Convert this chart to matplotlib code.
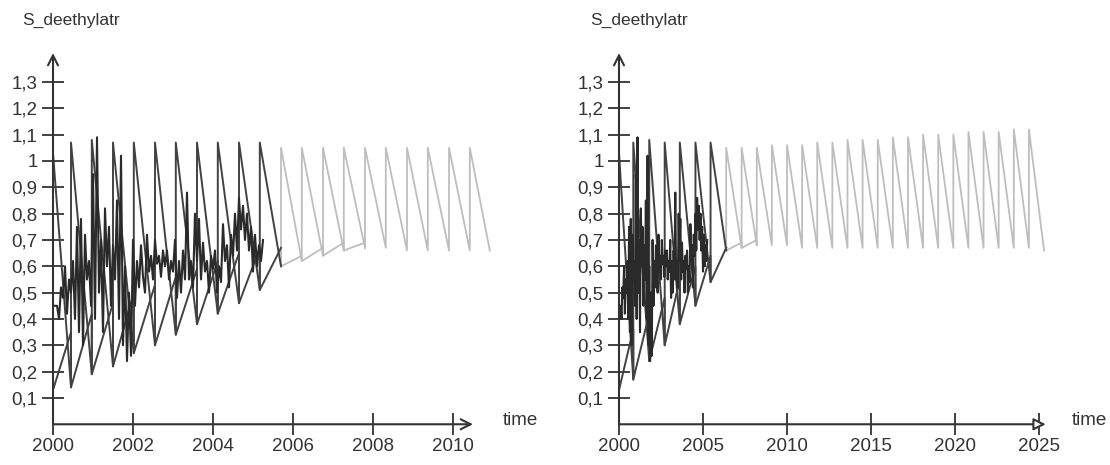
import matplotlib
matplotlib.use("Agg")
import matplotlib.pyplot as plt
import numpy as np
from matplotlib import font_manager

# ---- data ----------------------------------------------------------------
# observed series (same in both panels), sampled every 0.05 year from 2000.0
OBS_START = 2000.0
OBS_STEP = 0.05
obs_values = [
    0.45, 0.45, 0.45, 0.40, 0.52, 0.48, 0.60, 0.42, 0.55, 0.50,
    0.62, 0.40, 0.75, 0.35, 0.78, 0.30, 0.72, 0.55, 0.62, 0.45,
    0.95, 0.40, 1.09, 0.50, 0.70, 0.35, 0.82, 0.60, 0.75, 0.45,
    0.68, 0.55, 0.85, 0.40, 1.02, 0.30, 0.60, 0.24, 0.50, 0.26,
    0.70, 0.45, 0.62, 0.52, 0.68, 0.56, 0.50, 0.72, 0.58, 0.64,
    0.55, 0.70, 0.61, 0.64, 0.56, 0.66, 0.60, 0.66, 0.55, 0.62,
    0.58, 0.70, 0.48, 0.62, 0.50, 0.66, 0.55, 0.88, 0.55, 0.62,
    0.52, 0.80, 0.62, 0.78, 0.55, 0.69, 0.58, 0.62, 0.50, 0.64,
    0.59, 0.66, 0.50, 0.60, 0.54, 0.76, 0.62, 0.68, 0.52, 0.72,
    0.64, 0.80, 0.66, 0.86, 0.74, 0.83, 0.70, 0.80, 0.66, 0.75,
    0.58, 0.72, 0.60, 0.68, 0.62, 0.70,
]

# left panel: simulation with half-yearly applications
left_start = (2000.0, 1.03)
left_jumps = [2000.45, 2000.97, 2001.50, 2002.02, 2002.55, 2003.07, 2003.60,
              2004.12, 2004.65, 2005.17, 2005.70, 2006.22, 2006.75, 2007.27,
              2007.80, 2008.32, 2008.85, 2009.37, 2009.90, 2010.42]
left_peaks = [1.07, 1.08, 1.07, 1.07, 1.07, 1.07, 1.07, 1.07, 1.07, 1.07,
              1.05, 1.05, 1.05, 1.05, 1.05, 1.05, 1.05, 1.05, 1.05, 1.05]
left_troughs = [0.14, 0.19, 0.22, 0.27, 0.30, 0.34, 0.38, 0.42, 0.46, 0.51,
                0.60, 0.62, 0.64, 0.66, 0.67, 0.67, 0.66, 0.66, 0.66, 0.66]
left_end = (2010.92, 0.66)
# slowly rising companion curve: value reached at each jump time
left_rise_start = (2000.0, 0.13)
left_rise_highs = [0.35, 0.42, 0.46, 0.50, 0.53, 0.56, 0.59, 0.62, 0.65, 0.67,
                   0.67, 0.64, 0.67, 0.69, 0.69]
left_dark_until = 10      # jumps drawn dark

# right panel: simulation with ~0.9 year cycle, run to 2025
right_start = (2000.0, 1.03)
right_jumps = [2000.85, 2001.80, 2002.72, 2003.62, 2004.55, 2005.45, 2006.38,
               2007.30, 2008.20, 2009.10, 2010.00, 2010.90, 2011.80, 2012.70,
               2013.60, 2014.50, 2015.40, 2016.30, 2017.20, 2018.10, 2019.00,
               2019.90, 2020.80, 2021.70, 2022.60, 2023.50, 2024.40]
right_peaks = [1.07, 1.08, 1.07, 1.07, 1.07, 1.07, 1.05, 1.05, 1.05, 1.06,
               1.06, 1.06, 1.07, 1.07, 1.08, 1.08, 1.08, 1.09, 1.09, 1.10,
               1.10, 1.10, 1.11, 1.11, 1.11, 1.12, 1.12]
right_troughs = [0.17, 0.24, 0.30, 0.38, 0.45, 0.54, 0.66, 0.67, 0.68, 0.68,
                 0.68, 0.67, 0.67, 0.67, 0.67, 0.67, 0.67, 0.67, 0.67, 0.67,
                 0.67, 0.67, 0.67, 0.67, 0.67, 0.67, 0.67]
right_end = (2025.3, 0.66)
right_rise_start = (2000.0, 0.13)
right_rise_highs = [0.36, 0.42, 0.48, 0.55, 0.60, 0.64, 0.67, 0.69, 0.70]
right_dark_until = 6

y_ticks = [0.1, 0.2, 0.3, 0.4, 0.5, 0.6, 0.7, 0.8, 0.9, 1.0, 1.1, 1.2, 1.3]
left_xticks = [2000, 2002, 2004, 2006, 2008, 2010]
right_xticks = [2000, 2005, 2010, 2015, 2020, 2025]

# ---- styling --------------------------------------------------------------
names = {f.name for f in font_manager.fontManager.ttflist}
if "Liberation Sans Narrow" in names:
    FAMILY = ["Liberation Sans Narrow", "DejaVu Sans"]
    FS = 15.5
else:
    FAMILY = ["Liberation Sans", "DejaVu Sans"]
    FS = 13.5
plt.rcParams["font.family"] = FAMILY

TXT = "#333333"
DARK = "#424242"
OBS = "#2a2a2a"
LIGHT = "#bebebe"


def sawtooth(start, jumps, peaks, troughs, end):
    t, v = [start[0]], [start[1]]
    for j, p, m in zip(jumps, peaks, troughs):
        t += [j, j]
        v += [m, p]
    t.append(end[0])
    v.append(end[1])
    return t, v


def rising(start, jumps, troughs, highs):
    t, v = [start[0]], [start[1]]
    for k, h in enumerate(highs):
        t += [jumps[k], jumps[k]]
        v += [h, troughs[k]]
    return t, v


def draw_panel(ax, start, jumps, peaks, troughs, end, rise_start, rise_highs,
               dark_until, xlim, xticks, x_tip, arrow):
    k = dark_until
    # light (later) part of the simulation
    lt, lv = sawtooth((jumps[k], troughs[k]), jumps[k:], peaks[k:], troughs[k:], end)
    ax.plot(lt, lv, color=LIGHT, lw=1.3, zorder=2)
    rt, rv = rising(rise_start, jumps, troughs, rise_highs)
    n_dark = 2 * k + 1
    ax.plot(rt[n_dark:], rv[n_dark:], color=LIGHT, lw=1.3, zorder=2)
    # dark (earlier) part
    dt, dv = sawtooth(start, jumps[:k], peaks[:k], troughs[:k], (jumps[k], troughs[k]))
    ax.plot(rt[:n_dark + 1], rv[:n_dark + 1], color=DARK, lw=1.4, zorder=3)
    ax.plot(dt, dv, color=DARK, lw=1.4, zorder=3)
    # observations
    ot = OBS_START + OBS_STEP * np.arange(len(obs_values))
    ax.plot(ot, obs_values, color=OBS, lw=1.5, zorder=4)

    ax.set_xlim(*xlim)
    ax.set_ylim(-0.1, 1.45)
    for s in ax.spines.values():
        s.set_visible(False)
    ax.spines["left"].set_position(("data", 2000))
    ax.spines["bottom"].set_position(("data", 0))
    ax.set_yticks(y_ticks)
    ax.set_yticklabels([f"{y:g}".replace(".", ",") for y in y_ticks])
    ax.set_xticks(xticks)
    ax.set_xticklabels([str(x) for x in xticks])
    ax.tick_params(axis="both", direction="inout", length=16, width=1.3,
                   color=TXT, labelcolor=TXT, labelsize=FS)
    ax.tick_params(axis="y", pad=3)
    ax.tick_params(axis="x", pad=2)
    ax.patch.set_alpha(0)
    # axis lines with arrows
    ax.annotate("", xy=(2000, 1.41), xytext=(2000, 0), xycoords="data",
                arrowprops=dict(arrowstyle="->", color=TXT, lw=1.5,
                                shrinkA=0, shrinkB=0, mutation_scale=18),
                annotation_clip=False, zorder=5)
    ax.annotate("", xy=(x_tip, 0), xytext=(2000, 0), xycoords="data",
                arrowprops=dict(arrowstyle=arrow, color=TXT, lw=1.5, fc="white",
                                shrinkA=0, shrinkB=0, mutation_scale=18),
                annotation_clip=False, zorder=5)


fig = plt.figure(figsize=(11.1, 4.65), dpi=100)
ax_l = fig.add_axes([33 / 1110, 14.4 / 465, 500 / 1110, 408.1 / 465])
ax_r = fig.add_axes([593.8 / 1110, 14.4 / 465, 512.4 / 1110, 408.1 / 465])

draw_panel(ax_l, left_start, left_jumps, left_peaks, left_troughs, left_end,
           left_rise_start, left_rise_highs, left_dark_until,
           (1999.5, 2012.0), left_xticks, 2010.5, "->")
draw_panel(ax_r, right_start, right_jumps, right_peaks, right_troughs, right_end,
           right_rise_start, right_rise_highs, right_dark_until,
           (1998.5, 2029.0), right_xticks, 2025.4, "-|>")

for x in (22, 590):
    fig.text(x / 1110, 1 - 20 / 465, "S_deethylatr", ha="left", va="center",
             fontsize=FS - 1, color=TXT)
for x in (503, 1072):
    fig.text(x / 1110, 1 - 420 / 465, "time", ha="left", va="center",
             fontsize=FS, color=TXT)

fig.savefig("out.png", dpi=100, facecolor="white")
